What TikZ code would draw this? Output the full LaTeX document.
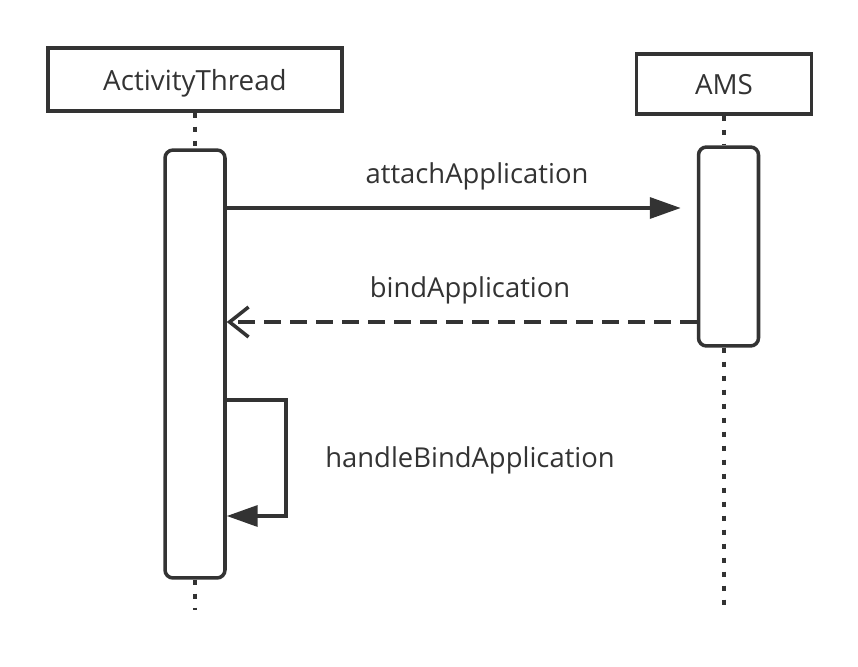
\documentclass[tikz,border=0pt]{standalone}
\usepackage{fontspec}
\setmainfont{Open Sans}
\usetikzlibrary{arrows.meta, calc}
\definecolor{ink}{HTML}{333333}

\begin{document}
\begin{tikzpicture}[x=0.02cm, y=-0.02cm, ink, line width=2pt,
    actor/.style={draw, rectangle, inner sep=0pt, text=ink, text depth=0pt, font=\fontsize{15.8}{18}\selectfont},
    bar/.style={draw, rectangle, rounded corners=0.16cm, fill=white, minimum width=1.2cm},
    life/.style={dash pattern=on 0.1cm off 0.18cm},
    call/.style={-{Triangle[length=0.62cm, width=0.42cm]}},
    reply/.style={dash pattern=on 0.34cm off 0.18cm, -{Straight Barb[length=0.38cm, width=0.6cm]}},
    lbl/.style={anchor=base, text=ink, font=\fontsize{15.6}{18}\selectfont}]

    \useasboundingbox (0,0) rectangle (858,666);

    \node (at) [actor, minimum width=5.88cm, minimum height=1.26cm] at (195,79.5) {ActivityThread};
    \node (ams) [actor, minimum width=3.5cm, minimum height=1.2cm] at (724,84) {AMS};

    \node (atbar) [bar, minimum height=8.56cm] at (195,364) {};
    \node (amsbar) [bar, minimum height=3.98cm] at (728.5,246.5) {};

    % lifelines
    \coordinate (atend) at (195,610);
    \coordinate (amsend) at (724,612);
    \draw[life] (at.south) -- (atbar.north);
    \draw[life] (atbar.south) -- (atend);
    \draw[life] (ams.south) -- (ams.south |- amsbar.north);
    \draw[life] (ams.south |- amsbar.south) -- (amsend);

    % messages
    \draw[call, shorten >=0.32cm] (atbar.east |- 0,208) -- (amsbar.west |- 0,208);
    \node[lbl] at (477,183) {attachApplication};

    \draw[reply] (amsbar.west |- 0,322) -- (atbar.east |- 0,322);
    \node[lbl] at (470,297) {bindApplication};

    \coordinate (selftop) at (atbar.east |- 0,400);
    \coordinate (selfbot) at (atbar.east |- 0,516);
    \draw[call] (selftop) -- ++(59,0) |- (selfbot);
    \node[lbl] at (470,467) {handleBindApplication};

\end{tikzpicture}
\end{document}
